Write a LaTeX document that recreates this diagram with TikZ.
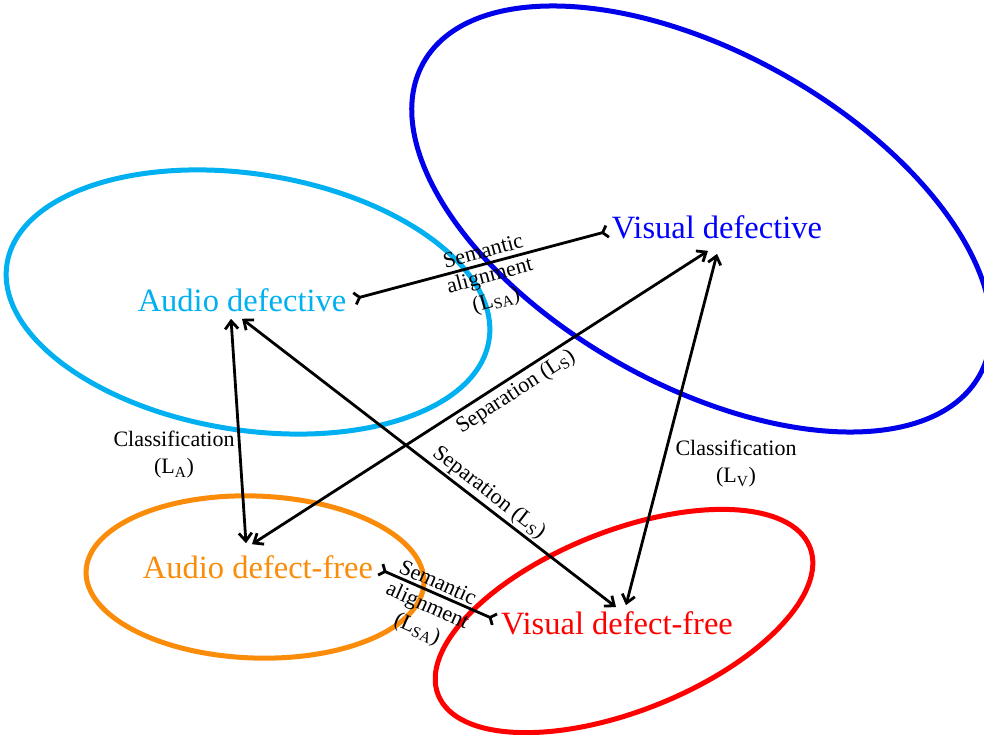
\documentclass[tikz,border=0pt]{standalone}
\usepackage{fontspec}
\setmainfont{Liberation Serif}
\usetikzlibrary{arrows.meta}
\definecolor{cyanc}{RGB}{0,176,240}
\definecolor{bluec}{RGB}{0,0,235}
\definecolor{bluet}{RGB}{0,0,255}
\definecolor{orangec}{RGB}{250,140,10}
\definecolor{redc}{RGB}{255,0,0}
\begin{document}
\begin{tikzpicture}[x=1pt,y=-1pt,
  ell/.style={line width=5pt},
  big/.style={font=\fontsize{32.5}{36}\selectfont, inner sep=0pt},
  lbl/.style={font=\fontsize{22}{25}\selectfont, align=center, inner sep=0pt, text=black},
  cls/.style={font=\fontsize{22}{27}\selectfont, align=center, inner sep=0pt, text=black},
  dbl/.style={line width=2.8pt, {Straight Barb[length=8pt,width=13pt]}-{Straight Barb[length=8pt,width=13pt]}},
  sem/.style={line width=2.8pt, {Straight Barb[reversed,length=5pt,width=12pt]}-{Straight Barb[reversed,length=5pt,width=12pt]}}
]
\useasboundingbox (0,0) rectangle (984,735);
\fill[white] (0,0) rectangle (984,735);
% ellipses
\draw[ell, cyanc, rotate around={-9:(248,302)}] (248,302) ellipse [x radius=244pt, y radius=128pt];
\draw[ell, bluec, rotate around={-29.35:(701.5,219)}] (701.5,219) ellipse [x radius=319pt, y radius=166pt];
\draw[ell, orangec, rotate around={-2:(255,577)}] (255,577) ellipse [x radius=169pt, y radius=81pt];
\draw[ell, redc, rotate around={21.7:(624,621)}] (624,621) ellipse [x radius=200pt, y radius=90pt];
% main texts
\node[big, text=cyanc] (ad) at (242,300) {Audio defective};
\node[big, text=bluet] (vd) at (717,227) {Visual defective};
\node[big, text=orangec] (adf) at (258,567) {Audio defect-free};
\node[big, text=redc] (vdf) at (617,623) {Visual defect-free};
% connectors
\draw[sem] ([xshift=7pt,yshift=1pt]ad.east) -- ([xshift=-3pt,yshift=-4pt]vd.west);
\draw[sem] ([xshift=6pt,yshift=-2pt]adf.east) -- ([xshift=-5pt,yshift=3pt]vdf.west);
\draw[dbl] ([xshift=-11pt,yshift=-7pt]ad.south) -- ([xshift=-12pt,yshift=12pt]adf.north);
\draw[dbl] ([yshift=-7pt]ad.south) -- ([xshift=-1pt,yshift=4pt]vdf.north);
\draw[dbl] ([xshift=-6pt,yshift=11pt]adf.north) -- ([xshift=-9pt,yshift=-12pt]vd.south);
\draw[dbl] ([yshift=-15pt]vd.south) -- ([xshift=9pt,yshift=6pt]vdf.north);
% labels
\node[lbl, rotate=15] (sa1) at (490,277) {Semantic\\alignment\\(L\textsubscript{SA})};
\node[lbl, rotate=-24] (sa2) at (427,607) {Semantic\\alignment\\(L\textsubscript{SA})};
\node[cls] (ca) at (174,455) {Classification\\(L\textsubscript{A})};
\node[cls] (cv) at (736,464) {Classification\\(L\textsubscript{V})};
\node[lbl, rotate=33] (s1) at (516,392) {Separation (L\textsubscript{S})};
\node[lbl, rotate=-37.8] (s2) at (489,493) {Separation (L\textsubscript{S})};
\end{tikzpicture}
\end{document}
